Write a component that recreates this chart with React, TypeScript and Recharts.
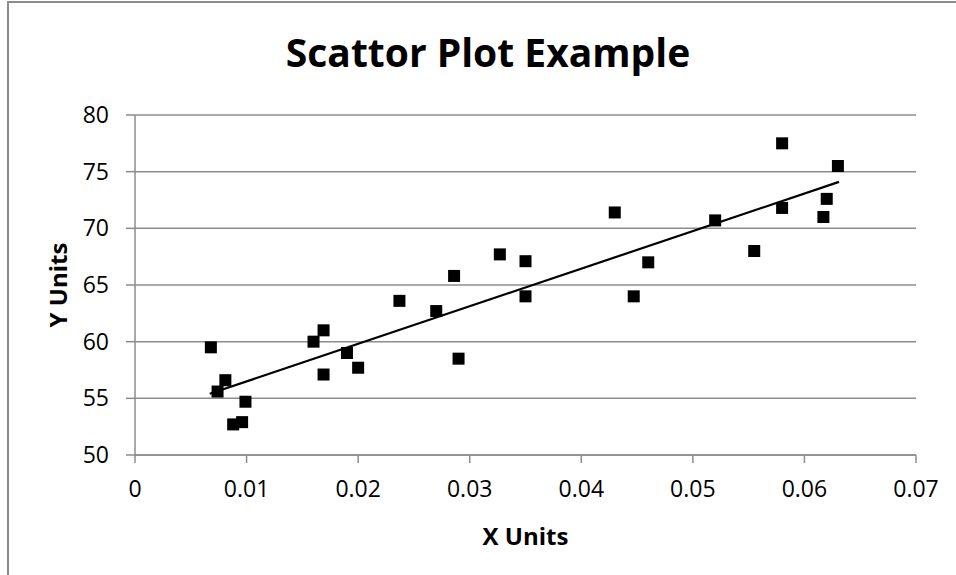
import {
  ScatterChart,
  Scatter,
  XAxis,
  YAxis,
  CartesianGrid,
  ReferenceLine,
  Label,
} from "recharts";

// values
const xValues = [
  0.0068, 0.0074, 0.0081, 0.0088, 0.0096, 0.0099, 0.016, 0.0169, 0.0169, 0.019,
  0.02, 0.0237, 0.027, 0.0286, 0.029, 0.0327, 0.035, 0.035, 0.043, 0.0447,
  0.046, 0.052, 0.0555, 0.058, 0.058, 0.0617, 0.062, 0.063,
];
const yValues = [
  59.5, 55.6, 56.6, 52.7, 52.9, 54.7, 60.0, 61.0, 57.1, 59.0,
  57.7, 63.6, 62.7, 65.8, 58.5, 67.7, 67.1, 64.0, 71.4, 64.0,
  67.0, 70.7, 68.0, 77.5, 71.8, 71.0, 72.6, 75.5,
];
// linear trendline end points
const trendX = [0.0067, 0.0631];
const trendY = [55.4, 74.1];

const xTicks = [0, 0.01, 0.02, 0.03, 0.04, 0.05, 0.06, 0.07];
const yTicks = [50, 55, 60, 65, 70, 75, 80];

const points = xValues.map((x, i) => ({ x, y: yValues[i] }));

const FONT = "'Open Sans', 'DejaVu Sans', sans-serif";
const GRAY = "#8c8c8c";

const Square = (props: any) => {
  const { cx, cy } = props;
  if (cx == null || cy == null) return <g />;
  return <rect x={cx - 6} y={cy - 6} width={12} height={12} fill="#000" />;
};

const fmtX = (v: number) => String(Number(v.toFixed(2)));

export default function App() {
  return (
    <div
      style={{
        position: "absolute",
        left: 0,
        top: 0,
        width: 956,
        height: 575,
        overflow: "hidden",
        background: "#fff",
        fontFamily: FONT,
      }}
    >
      <div
        style={{
          position: "absolute",
          left: 7,
          top: 1,
          width: 1100,
          height: 800,
          border: `2px solid ${GRAY}`,
        }}
      />
      <ScatterChart
        width={956}
        height={575}
        margin={{ top: 115, right: 40, bottom: 0, left: 0 }}
        style={{ position: "absolute", left: 0, top: 0 }}
      >
        <text
          x={488}
          y={67}
          textAnchor="middle"
          fontFamily={FONT}
          fontWeight={700}
          fontSize={39}
          fill="#000"
        >
          Scattor Plot Example
        </text>
        <CartesianGrid vertical={false} stroke={GRAY} strokeWidth={1.5} />
        <XAxis
          type="number"
          dataKey="x"
          domain={[0, 0.07]}
          ticks={xTicks}
          tickFormatter={fmtX}
          height={120}
          tickSize={8}
          tickMargin={18}
          stroke={GRAY}
          strokeWidth={1.5}
          tick={{ fill: "#000", fontSize: 23, fontFamily: FONT }}
          allowDataOverflow
        >
          <Label
            content={({ viewBox }: any) => (
              <text
                x={viewBox.x + viewBox.width / 2}
                y={viewBox.y + 90}
                textAnchor="middle"
                fontFamily={FONT}
                fontWeight={700}
                fontSize={24}
                fill="#000"
              >
                X Units
              </text>
            )}
          />
        </XAxis>
        <YAxis
          type="number"
          dataKey="y"
          domain={[50, 80]}
          ticks={yTicks}
          width={135}
          tickSize={9}
          tickMargin={17}
          stroke={GRAY}
          strokeWidth={1.5}
          tick={{ fill: "#000", fontSize: 23, fontFamily: FONT }}
          allowDataOverflow
        >
          <Label
            content={({ viewBox }: any) => {
              const cx = viewBox.x + 67;
              const cy = viewBox.y + viewBox.height / 2;
              return (
                <text
                  x={cx}
                  y={cy}
                  transform={`rotate(-90 ${cx} ${cy})`}
                  textAnchor="middle"
                  fontFamily={FONT}
                  fontWeight={700}
                  fontSize={24}
                  fill="#000"
                >
                  Y Units
                </text>
              );
            }}
          />
        </YAxis>
        <ReferenceLine
          segment={[
            { x: trendX[0], y: trendY[0] },
            { x: trendX[1], y: trendY[1] },
          ]}
          stroke="#000"
          strokeWidth={2.2}
        />
        <Scatter data={points} shape={Square} isAnimationActive={false} />
      </ScatterChart>
    </div>
  );
}
